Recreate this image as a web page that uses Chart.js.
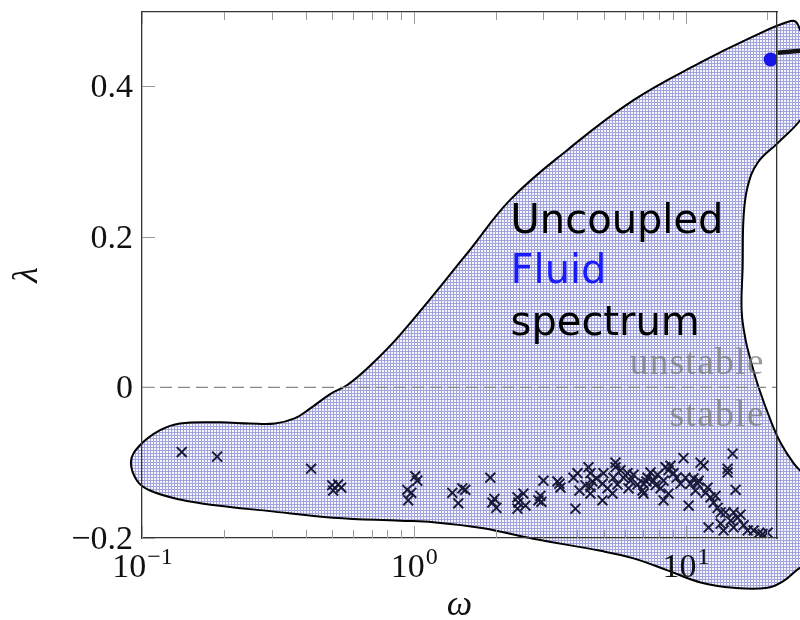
<!DOCTYPE html>
<html>
<head>
<meta charset="utf-8">
<script src="https://cdn.jsdelivr.net/npm/chart.js@4/dist/chart.umd.min.js"></script>
<style>
  body { margin: 0; background: #fff; }
  #wrap { width: 800px; height: 620px; }
</style>
</head>
<body>
<div id="wrap"><canvas id="spectrum" width="800" height="620"></canvas></div>
<script>
// outline of the shaded region (omega, lambda), walked round once
const blobOmega = [0.892, 0.505, 0.289, 0.189, 0.138, 0.107, 0.0959, 0.0911, 0.0983, 0.1165, 0.138, 0.194,
    0.250, 0.309, 0.366, 0.416, 0.4925, 0.569, 0.692, 0.892, 1.574, 2.267, 3.677, 6.434, 11.36,
    17.36, 24.36, 25.85, 28.38, 28.87, 26.5, 21.83, 18.42, 16.92, 16.35, 16.22, 16.08, 16.63, 17.36,
    18.57, 20.56, 22.39, 25.0, 30.1, 30.1, 26.5, 22.96, 20.04, 15.02, 11.36, 8.585, 6.434, 4.863,
    2.755, 1.803, 1.18, 0.892];
const blobLambda = [-0.177, -0.173, -0.164, -0.157, -0.149, -0.137, -0.124, -0.098, -0.077, -0.057, -0.048, -0.0465,
    -0.048, -0.048, -0.041, -0.028, -0.009, 0.003, 0.029, 0.070, 0.178, 0.249, 0.315, 0.381, 0.431,
    0.464, 0.486, 0.482, 0.435, 0.381, 0.355, 0.324, 0.298, 0.266, 0.226, 0.160, 0.102, 0.063, 0.036,
    0.0, -0.044, -0.074, -0.101, -0.137, -0.230, -0.239, -0.257, -0.266, -0.266, -0.259, -0.243, -0.227, -0.217,
    -0.201, -0.187, -0.179, -0.177];

// eigenvalues (crosses)
const crossOmega = [0.140, 0.189, 0.419, 0.501, 0.527, 0.541, 0.505, 1.013, 1.030, 0.946, 0.979, 0.954,
    1.386, 1.509, 1.547, 1.458, 1.913, 1.980, 1.946, 2.013, 2.406, 2.426, 2.531, 2.406, 2.575,
    2.923, 2.949, 2.999, 2.874, 3.377, 3.435, 3.465, 3.934, 3.868, 4.001, 4.392, 4.468, 4.544, 4.468,
    4.468, 4.701, 4.989, 4.947, 4.947, 5.161, 5.524, 5.524, 5.431, 5.385, 5.617, 5.910, 6.115, 6.272,
    6.434, 6.166, 6.656, 6.944, 7.003, 7.183, 7.003, 7.432, 7.244, 7.623, 7.886, 8.439, 8.656, 8.297,
    9.033, 9.265, 8.297, 8.804, 9.585, 9.831, 10.0, 10.43, 10.26, 10.70, 11.07, 11.36, 11.65, 11.17,
    12.05, 12.36, 12.68, 13.12, 13.46, 12.15, 13.80, 14.04, 13.46, 14.65, 14.90, 14.28, 14.28, 15.28,
    15.02, 15.54, 15.94, 16.35, 16.92, 17.80, 18.57, 20.04, 19.21, 15.02, 12.90, 11.85, 10.88, 8.656,
    8.09, 7.754, 5.762, 4.282, 4.070];
const crossLambda = [-0.086, -0.092, -0.108, -0.130, -0.129, -0.133, -0.137, -0.118, -0.124, -0.136, -0.140, -0.150,
    -0.140, -0.134, -0.136, -0.154, -0.120, -0.148, -0.153, -0.160, -0.146, -0.153, -0.141, -0.161, -0.157,
    -0.144, -0.152, -0.124, -0.150, -0.125, -0.128, -0.133, -0.161, -0.120, -0.114, -0.106, -0.114, -0.125, -0.132,
    -0.141, -0.121, -0.114, -0.128, -0.150, -0.134, -0.100, -0.106, -0.120, -0.141, -0.129, -0.120, -0.114, -0.124,
    -0.116, -0.134, -0.129, -0.137, -0.141, -0.125, -0.128, -0.113, -0.120, -0.124, -0.116, -0.106, -0.110, -0.124,
    -0.114, -0.120, -0.150, -0.104, -0.128, -0.094, -0.120, -0.128, -0.157, -0.121, -0.128, -0.100, -0.104, -0.124,
    -0.133, -0.146, -0.153, -0.160, -0.166, -0.186, -0.190, -0.166, -0.181, -0.177, -0.088, -0.108, -0.113, -0.136,
    -0.166, -0.173, -0.169, -0.183, -0.190, -0.190, -0.194, -0.193, -0.195, -0.186, -0.144, -0.140, -0.137, -0.141,
    -0.134, -0.130, -0.110, -0.130, -0.137];

// single fluid eigenvalue and the branch leaving the frame
const fluidOmega = [20.56];
const fluidLambda = [0.435];
const branchOmega = [28.0, 21.83];
const branchLambda = [0.4475, 0.444];

// lambda = 0 separator
const neutralOmega = [0.1, 21.7];
const neutralLambda = [0, 0];

// ticks
const xMajorTicks = [0.1, 1, 10];
const xTickExponents = ['\u22121', '0', '1'];
const xMinorTicks = [0.2, 0.3, 0.4, 0.5, 0.6, 0.7, 0.8, 0.9, 2, 3, 4, 5, 6, 7, 8, 9, 20];
const yTicks = [-0.2, 0, 0.2, 0.4];
const yTickLabels = ['\u22120.2', '0', '0.2', '0.4'];

// annotation text
const labelLines = ['Uncoupled', 'Fluid', 'spectrum'];
const labelColors = ['#000000', '#1a1aff', '#000000'];
const labelOmega = 2.27;
const labelLambda = [0.205, 0.138, 0.069];
const regionText = ['unstable', 'stable'];
const regionOmega = 19.6;
const regionLambda = [0.0175, -0.052];

const pts = (xs, ys) => xs.map((x, i) => ({ x: x, y: ys[i] }));

function hatch(ctx) {
    const c = document.createElement('canvas');
    c.width = 3;
    c.height = 3;
    const g = c.getContext('2d');
    g.fillStyle = 'rgba(235,235,250,0.5)';
    g.fillRect(0, 0, 3, 3);
    g.fillStyle = 'rgba(80,80,190,0.5)';
    g.fillRect(0, 0, 3, 1);
    g.fillRect(0, 1, 1, 2);
    return ctx.createPattern(c, 'repeat');
}

const decor = {
    id: 'decor',
    beforeDatasetsDraw(chart) {
        // fill the closed outline, not clipped to the plot area
        const line = chart.getDatasetMeta(0).dataset;
        const ctx = chart.ctx;
        line.updateControlPoints(chart.chartArea, 'x');
        ctx.save();
        ctx.beginPath();
        line.path(ctx);
        ctx.closePath();
        ctx.fillStyle = hatch(ctx);
        ctx.fill();
        ctx.restore();
    },
    afterDraw(chart) {
        const ctx = chart.ctx;
        const xs = chart.scales.x, ys = chart.scales.y;
        const a = chart.chartArea;
        ctx.save();

        // tick marks pointing inward
        ctx.strokeStyle = '#999';
        ctx.lineWidth = 1;
        const vtick = (v, len) => {
            const p = Math.round(xs.getPixelForValue(v)) + 0.5;
            ctx.beginPath();
            ctx.moveTo(p, a.bottom); ctx.lineTo(p, a.bottom - len);
            ctx.moveTo(p, a.top); ctx.lineTo(p, a.top + len);
            ctx.stroke();
        };
        xMinorTicks.forEach(v => vtick(v, 8));
        xMajorTicks.forEach(v => vtick(v, 12));
        yTicks.forEach(v => {
            const p = Math.round(ys.getPixelForValue(v)) + 0.5;
            ctx.beginPath();
            ctx.moveTo(a.left, p); ctx.lineTo(a.left + 13, p);
            ctx.stroke();
        });

        // y tick labels
        ctx.fillStyle = '#111';
        ctx.font = '34px "Liberation Serif", serif';
        ctx.textAlign = 'right';
        ctx.textBaseline = 'alphabetic';
        yTicks.forEach((v, i) => {
            ctx.fillText(yTickLabels[i], a.left - 9, ys.getPixelForValue(v) + 11);
        });

        // x tick labels 10^k
        ctx.textAlign = 'left';
        xMajorTicks.forEach((v, i) => {
            ctx.font = '34px "Liberation Serif", serif';
            const w1 = ctx.measureText('10').width;
            ctx.font = '24px "Liberation Serif", serif';
            const w2 = ctx.measureText(xTickExponents[i]).width;
            const x0 = xs.getPixelForValue(v) - (w1 + w2) / 2;
            ctx.font = '34px "Liberation Serif", serif';
            ctx.fillText('10', x0, a.bottom + 39);
            ctx.font = '24px "Liberation Serif", serif';
            ctx.fillText(xTickExponents[i], x0 + w1 + 1, a.bottom + 26);
        });

        // axis titles
        ctx.font = 'italic 36px "Liberation Serif", serif';
        ctx.textAlign = 'center';
        ctx.textBaseline = 'middle';
        ctx.fillText('\u03c9', (a.left + a.right) / 2, a.bottom + 68);
        ctx.save();
        ctx.translate(28, (a.top + a.bottom) / 2);
        ctx.rotate(-Math.PI / 2);
        ctx.fillText('\u03bb', 0, 0);
        ctx.restore();

        // stable / unstable
        ctx.font = '37px "Liberation Serif", serif';
        ctx.letterSpacing = '1.5px';
        ctx.textAlign = 'right';
        ctx.textBaseline = 'alphabetic';
        ctx.fillStyle = 'rgba(120,120,120,0.75)';
        regionText.forEach((t, i) => {
            ctx.fillText(t, xs.getPixelForValue(regionOmega), ys.getPixelForValue(regionLambda[i]));
        });
        ctx.letterSpacing = '0px';

        // annotation
        ctx.font = '40px "DejaVu Sans", sans-serif';
        ctx.textAlign = 'left';
        labelLines.forEach((t, i) => {
            ctx.fillStyle = labelColors[i];
            ctx.fillText(t, xs.getPixelForValue(labelOmega), ys.getPixelForValue(labelLambda[i]));
        });
        ctx.restore();
    }
};

const frame = { display: true, color: '#333', width: 1.3, z: 1 };
const hidden = { display: false };
const noGrid = { display: false, drawTicks: false };

new Chart(document.getElementById('spectrum'), {
    type: 'scatter',
    data: {
        datasets: [{
            data: pts(blobOmega, blobLambda),
            showLine: true,
            fill: false,
            tension: 0.4,
            capBezierPoints: false,
            borderColor: '#000',
            borderWidth: 2,
            pointRadius: 0,
            clip: false,
            order: 5
        }, {
            data: pts(neutralOmega, neutralLambda),
            showLine: true,
            borderColor: '#888',
            borderWidth: 1.3,
            borderDash: [12, 6],
            pointRadius: 0,
            order: 4
        }, {
            data: pts(crossOmega, crossLambda),
            pointStyle: 'crossRot',
            pointRadius: 7,
            borderWidth: 1.9,
            borderColor: '#1a1a38',
            order: 3
        }, {
            data: pts(branchOmega, branchLambda),
            showLine: true,
            borderColor: '#111',
            borderWidth: 4.5,
            pointRadius: 0,
            clip: false,
            order: 2
        }, {
            data: pts(fluidOmega, fluidLambda),
            pointStyle: 'circle',
            pointRadius: 7,
            backgroundColor: '#1616e8',
            borderColor: '#1616e8',
            borderWidth: 0,
            order: 1
        }]
    },
    options: {
        responsive: false,
        animation: false,
        events: [],
        layout: { padding: { left: 142, right: 23, top: 12, bottom: 82 } },
        plugins: { legend: { display: false }, tooltip: { enabled: false } },
        scales: {
            x: { type: 'logarithmic', position: 'bottom', min: 0.1, max: 21.7, ticks: hidden, grid: noGrid, border: frame },
            x2: { type: 'logarithmic', position: 'top', min: 0.1, max: 21.7, ticks: hidden, grid: noGrid, border: frame },
            y: { type: 'linear', position: 'left', min: -0.2, max: 0.498, ticks: hidden, grid: noGrid, border: frame },
            y2: { type: 'linear', position: 'right', min: -0.2, max: 0.498, ticks: hidden, grid: noGrid, border: frame }
        }
    },
    plugins: [decor]
});
</script>
</body>
</html>
